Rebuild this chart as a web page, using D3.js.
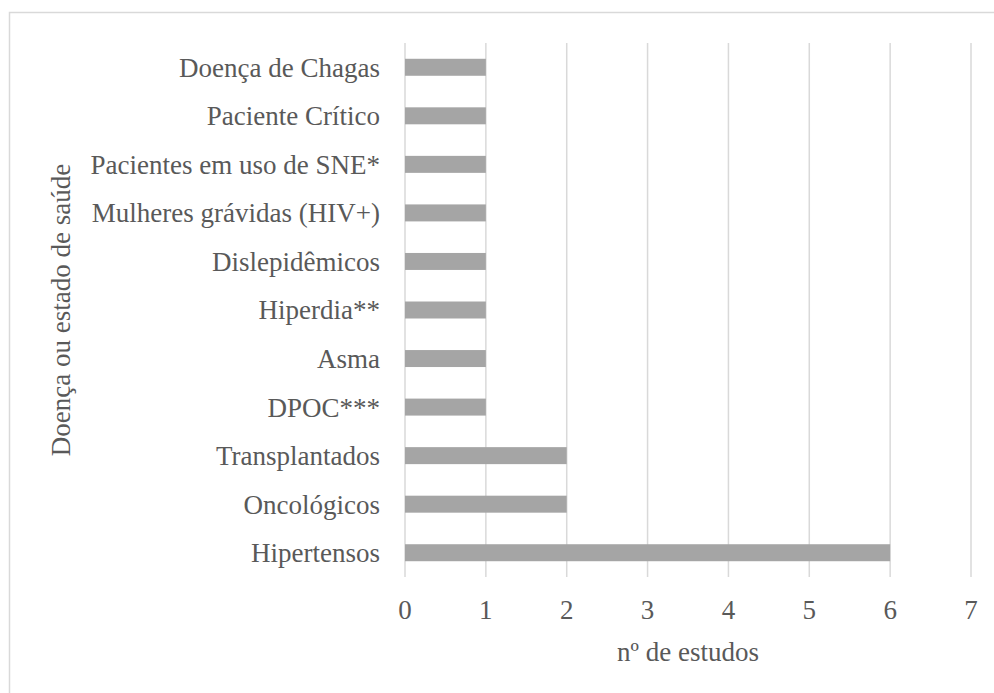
<!DOCTYPE html>
<html>
<head>
<meta charset="utf-8">
<script src="https://cdn.jsdelivr.net/npm/d3@7"></script>
<style>
  body { margin: 0; background: #fff; }
</style>
</head>
<body>
<svg id="main-svg"></svg>
<script>
// categories from top to bottom, as in the picture
const categories = [
    "Doença de Chagas",
    "Paciente Crítico",
    "Pacientes em uso de SNE*",
    "Mulheres grávidas (HIV+)",
    "Dislepidêmicos",
    "Hiperdia**",
    "Asma",
    "DPOC***",
    "Transplantados",
    "Oncológicos",
    "Hipertensos"
];
const studies = [1, 1, 1, 1, 1, 1, 1, 1, 2, 2, 6];
const xTicks = [0, 1, 2, 3, 4, 5, 6, 7];

const width = 994;
const height = 693;
const serif = "'Liberation Serif', LiberationSerif, 'Times New Roman', Times, Tinos, 'Nimbus Roman', 'Nimbus Roman No9 L', FreeSerif, 'Noto Serif', 'DejaVu Serif', Georgia, serif";
const textColor = "#595959";

const svg = d3.select("#main-svg")
    .attr("width", width)
    .attr("height", height)
    .style("background-color", "white");

// chart frame (runs off the right and bottom edges)
svg.append("rect")
    .attr("x", 9.5)
    .attr("y", 12.5)
    .attr("width", 1000)
    .attr("height", 700)
    .attr("fill", "none")
    .attr("stroke", "#d9d9d9")
    .attr("stroke-width", 1.5);

const x = d3.scaleLinear().domain([0, 7]).range([405, 971]);
const y = d3.scaleBand()
    .domain(categories)
    .range([43, 577])
    .paddingInner(0.65)
    .paddingOuter(0.325);

// vertical gridlines
svg.append("g")
    .selectAll("line")
    .data(xTicks)
    .enter()
    .append("line")
    .attr("x1", d => x(d))
    .attr("x2", d => x(d))
    .attr("y1", 43)
    .attr("y2", 577)
    .attr("stroke", "#d9d9d9")
    .attr("stroke-width", 1.5);

// bars
svg.append("g")
    .selectAll("rect")
    .data(categories)
    .enter()
    .append("rect")
    .attr("x", x(0))
    .attr("y", d => y(d))
    .attr("width", (d, i) => x(studies[i]) - x(0))
    .attr("height", y.bandwidth())
    .attr("fill", "#a5a5a5");

// category labels
svg.append("g")
    .selectAll("text")
    .data(categories)
    .enter()
    .append("text")
    .attr("x", 380)
    .attr("y", d => y(d) + y.bandwidth() / 2)
    .attr("dy", "0.35em")
    .attr("text-anchor", "end")
    .style("font-family", serif)
    .attr("font-size", "27px")
    .attr("fill", textColor)
    .text(d => d);

// x tick labels
svg.append("g")
    .selectAll("text")
    .data(xTicks)
    .enter()
    .append("text")
    .attr("x", d => x(d))
    .attr("y", 619)
    .attr("text-anchor", "middle")
    .style("font-family", serif)
    .attr("font-size", "27px")
    .attr("fill", textColor)
    .text(d => d);

// axis titles
svg.append("text")
    .attr("x", (x(0) + x(7)) / 2)
    .attr("y", 661)
    .attr("text-anchor", "middle")
    .style("font-family", serif)
    .attr("font-size", "27px")
    .attr("fill", textColor)
    .text("nº de estudos");

svg.append("text")
    .attr("transform", `translate(70, ${(43 + 577) / 2}) rotate(-90)`)
    .attr("text-anchor", "middle")
    .style("font-family", serif)
    .attr("font-size", "27px")
    .attr("fill", textColor)
    .text("Doença ou estado de saúde");
</script>
</body>
</html>
